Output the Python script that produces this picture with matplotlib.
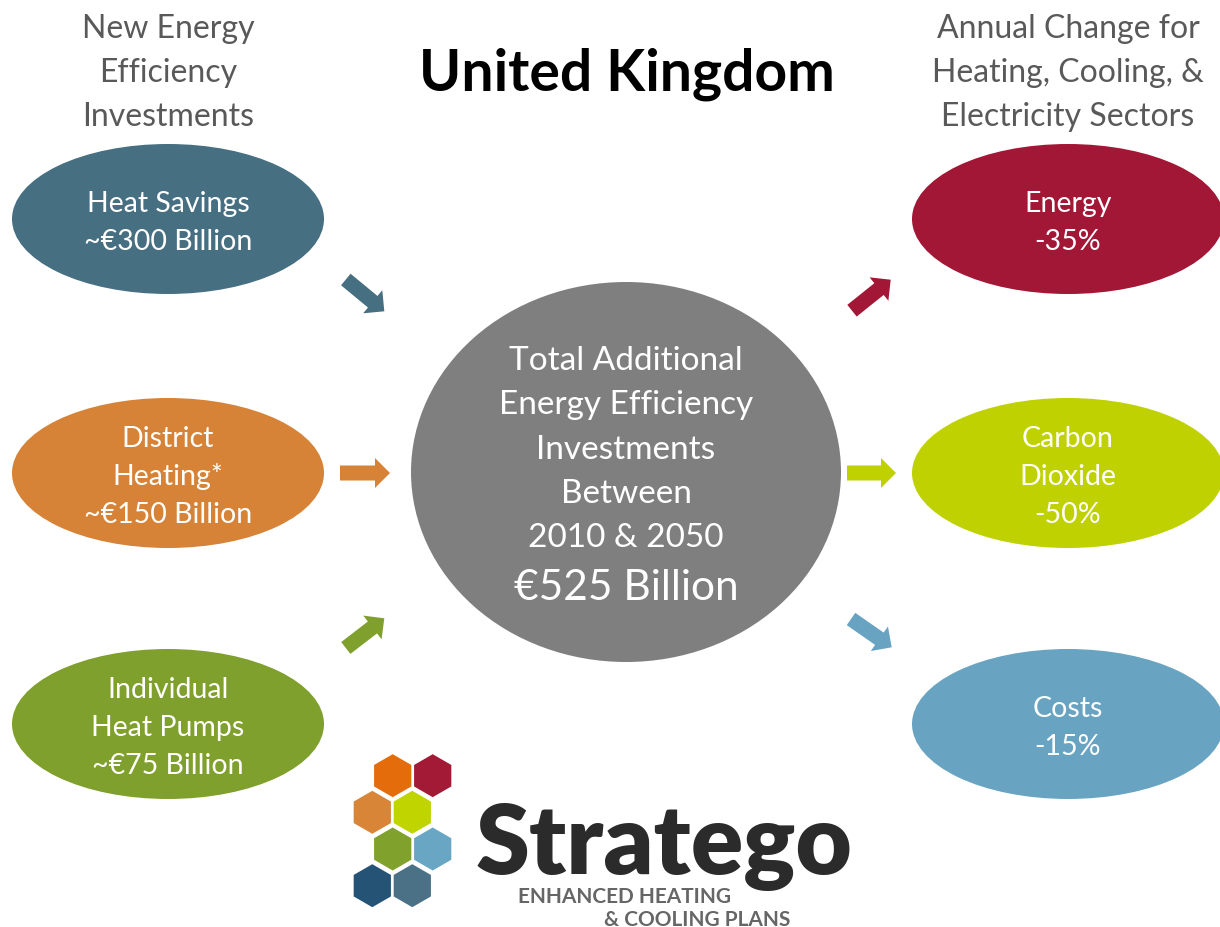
import matplotlib
matplotlib.use("Agg")
import matplotlib.pyplot as plt
from matplotlib.patches import Ellipse, FancyArrow, RegularPolygon

# ---- data ----
title = "United Kingdom"
left_header = ["New Energy", "Efficiency", "Investments"]
right_header = ["Annual Change for", "Heating, Cooling, &", "Electricity Sectors"]
left_labels = [["Heat Savings", "~€300 Billion"],
               ["District", "Heating*", "~€150 Billion"],
               ["Individual", "Heat Pumps", "~€75 Billion"]]
left_values_bn = [300, 150, 75]
left_colors = ["#476F82", "#D68338", "#80A02D"]
right_labels = [["Energy", "-35%"], ["Carbon", "Dioxide", "-50%"], ["Costs", "-15%"]]
right_changes_pct = [-35, -50, -15]
right_colors = ["#A21735", "#BFD100", "#68A4C2"]
center_lines = ["Total Additional", "Energy Efficiency", "Investments", "Between", "2010 & 2050"]
center_total = "€525 Billion"
center_color = "#7F7F7F"
hex_colors = ["#E46C0A", "#A31A36", "#D88538", "#C0D400",
              "#80A22D", "#69A6C4", "#245376", "#4A7186"]
logo_name = "Stratego"
logo_sub = ["ENHANCED HEATING", "& COOLING PLANS"]

FONT = ["Lato", "DejaVu Sans"]
LOGOFONT = ["Lato", "DejaVu Sans"]

fig = plt.figure(figsize=(12.2, 9.28), dpi=100)
ax = fig.add_axes([0, 0, 1, 1])
ax.set_xlim(0, 1220)
ax.set_ylim(928, 0)
ax.axis("off")

# headers
for i, t in enumerate(left_header):
    ax.text(168, 29 + 44 * i, t, ha="center", va="center", fontsize=23,
            color="#595959", family=FONT)
for i, t in enumerate(right_header):
    ax.text(1068, 29 + 44 * i, t, ha="center", va="center", fontsize=23,
            color="#595959", family=FONT)
ax.text(627, 74, title, ha="center", va="center", fontsize=41,
        fontweight="bold", color="black", family=FONT)

rows_y = [220, 474, 725]
# left ellipses
for y, lines, c in zip(rows_y, left_labels, left_colors):
    ax.add_patch(Ellipse((168, y), 312, 150, facecolor=c, edgecolor="none"))
    n = len(lines)
    for j, t in enumerate(lines):
        yy = y + 3 + (j - (n - 1) / 2) * 38
        ax.text(168, yy, t, ha="center", va="center", fontsize=20.5,
                color="white", family=FONT)
# right ellipses
for y, lines, c in zip(rows_y, right_labels, right_colors):
    ax.add_patch(Ellipse((1068, y), 312, 150, facecolor=c, edgecolor="none"))
    n = len(lines)
    for j, t in enumerate(lines):
        yy = y + 3 + (j - (n - 1) / 2) * 38
        ax.text(1068, yy, t, ha="center", va="center", fontsize=20.5,
                color="white", family=FONT)

# center circle
ax.add_patch(Ellipse((626, 473), 430, 380, facecolor=center_color, edgecolor="none"))
for i, t in enumerate(center_lines):
    ax.text(626, 361 + 44.3 * i, t, ha="center", va="center", fontsize=24,
            color="white", family=FONT)
ax.text(626, 588, center_total, ha="center", va="center", fontsize=30.5,
        color="white", family=FONT)

# arrows (tail -> tip)
arrows = [((345.8, 280.5), (384.3, 312.3), left_colors[0]),
          ((340, 474), (390, 474), left_colors[1]),
          ((345.8, 649), (384.3, 619.3), left_colors[2]),
          ((852, 311.7), (890.7, 280.7), right_colors[0]),
          ((847, 474), (896, 474), right_colors[1]),
          ((851, 620), (891.7, 648.3), right_colors[2])]
for (x0, y0), (x1, y1), c in arrows:
    ax.add_patch(FancyArrow(x0, y0, x1 - x0, y1 - y0, width=15, head_width=30,
                            head_length=15, length_includes_head=True,
                            facecolor=c, edgecolor="none"))

# logo hexagons
hex_pos = [(392.7, 776.7), (432.7, 776.7), (372.3, 813.3), (412.3, 813.3),
           (392.7, 850), (432.7, 850), (372.3, 886.7), (412.3, 886.7)]
for (hx, hy), c in zip(hex_pos, hex_colors):
    ax.add_patch(RegularPolygon((hx, hy), numVertices=6, radius=21.5,
                                orientation=0, facecolor=c, edgecolor="none"))

ax.text(476, 874, logo_name, ha="left", va="baseline", fontsize=70,
        fontweight="heavy", color="#2B2B2B", family=LOGOFONT)
ax.text(625, 897, logo_sub[0], ha="center", va="center", fontsize=15,
        fontweight="bold", color="#666666", family=FONT)
ax.text(697, 920, logo_sub[1], ha="center", va="center", fontsize=15,
        fontweight="bold", color="#666666", family=FONT)

fig.savefig("out.png", dpi=100)
